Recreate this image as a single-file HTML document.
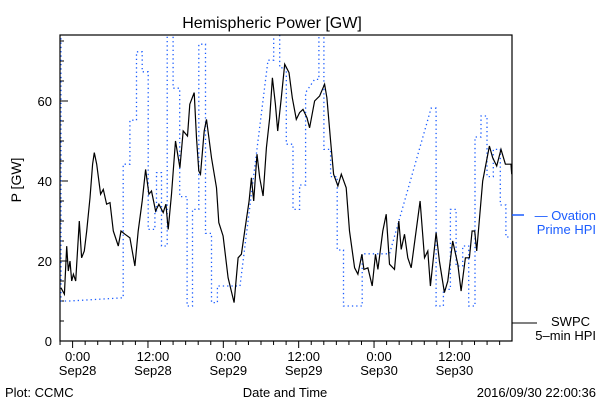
<!DOCTYPE html>
<html><head><meta charset="utf-8"><style>
body{margin:0;background:#fff}
svg text{font-family:"Liberation Sans",sans-serif;fill:#000}
</style></head><body>
<svg width="600" height="400" viewBox="0 0 600 400">
<rect width="600" height="400" fill="#fff"/>
<text x="272" y="28" font-size="16" text-anchor="middle">Hemispheric Power [GW]</text>
<text transform="translate(21,180) rotate(-90)" font-size="14" text-anchor="middle">P [GW]</text>
<text x="285" y="397" font-size="13" text-anchor="middle">Date and Time</text>
<text x="5" y="397" font-size="13">Plot: CCMC</text>
<text x="596" y="397" font-size="13" text-anchor="end">2016/09/30 22:00:36</text>
<defs><clipPath id="pc"><rect x="60" y="35" width="452" height="306"/></clipPath></defs>
<g id="axes"></g>
<g id="series" clip-path="url(#pc)"></g>
<rect x="60" y="35" width="452" height="306" fill="none" stroke="#000" stroke-width="1.2"/>
<g>
<line x1="512" y1="215" x2="524" y2="215" stroke="#1a5cff" stroke-width="1.5"/>
<text x="596" y="220" font-size="13" text-anchor="end" fill="#1a5cff" style="fill:#1a5cff">— Ovation</text>
<text x="596" y="234" font-size="13" text-anchor="end" style="fill:#1a5cff">Prime HPI</text>
</g>
<g>
<line x1="512" y1="323" x2="537" y2="323" stroke="#000" stroke-width="1"/>
<text x="590" y="326" font-size="13" text-anchor="end">SWPC</text>
<text x="596" y="340" font-size="13" text-anchor="end">5–min HPI</text>
</g>
</svg>
<script>
// time in hours (relative to data origin), values in GW
const swpcTime=[-2.70,-2.17,-1.80,-1.54,-1.27,-1.01,-0.74,-0.37,0.05,0.21,0.58,1.01,1.38,1.91,2.33,2.60,2.97,3.60,4.03,4.56,5.09,5.62,6.41,6.84,7.47,8.27,9.06,9.59,10.23,10.76,11.29,11.71,12.35,12.88,13.57,14.0,14.36,14.89,15.53,16.22,16.75,17.44,17.81,18.50,18.87,19.24,19.50,20.09,20.46,21.25,22.05,22.42,23.10,23.90,24.85,25.49,26.02,26.55,27.24,27.61,27.98,28.51,28.94,29.47,30.00,30.52,30.95,31.43,31.80,32.38,32.91,33.60,34.13,34.76,35.29,35.82,36.46,36.88,37.68,38.47,39.27,39.64,40.22,40.70,41.39,41.92,42.71,43.24,44.04,44.57,45.20,45.52,46.16,46.85,47.38,47.75,48.54,49.07,49.60,50.40,51.09,51.46,51.99,52.52,53.05,53.84,54.48,55.17,55.70,56.12,57.02,57.55,58.35,58.88,59.67,60.47,61.0,61.69,62.32,62.75,63.17,63.49,64.45,65.51,66.04,66.67,67.36,68.05,68.95,69.06];
const swpcPower=[13.3,11.7,23.7,17.5,20.0,15.0,16.7,15.0,25.8,30.0,20.8,22.5,27.5,35.8,44.2,47.1,44.2,36.7,37.9,34.2,34.6,27.5,23.75,27.5,26.7,25.8,18.75,27.5,35.0,42.9,36.7,37.5,32.5,34.2,32.1,34.2,27.9,36.7,50.0,43.3,52.5,51.25,59.2,62.1,50.8,42.5,41.7,52.5,55.4,45.8,38.3,29.6,26.25,15.8,9.6,20.8,21.7,27.5,35.0,40.8,35.0,46.7,40.8,36.25,48.3,55.8,65.8,59.2,52.5,60.8,69.2,67.1,60.8,55.4,57.1,57.9,55.8,53.3,60.0,61.25,64.2,60.8,50.0,41.7,38.75,41.7,38.3,27.5,18.3,16.7,21.7,17.9,18.3,13.75,21.7,17.9,27.5,31.7,19.2,17.9,30.0,22.9,26.7,20.8,18.3,27.5,35.0,20.8,22.5,13.75,27.1,20.0,12.1,15.0,25.0,19.2,12.5,20.8,20.8,27.5,27.5,22.5,40.0,48.75,45.8,43.75,47.9,44.2,44.2,41.7];
const ovTime=[-2.70,-2.70,-1.36,7.20,7.20,8.26,8.26,9.32,9.32,10.23,10.23,11.18,11.18,12.24,12.24,12.5,12.5,13.3,13.3,14.2,14.2,15.15,15.15,16.2,16.2,17.38,17.38,18.23,18.23,19.24,19.24,20.3,20.3,21.25,21.25,22.2,22.2,25.8,30.26,31.16,31.16,32.11,32.11,33.17,33.17,34.23,34.23,35.29,35.29,36.24,36.24,37.67,38.36,38.36,39.16,39.16,40.22,40.22,41.28,41.28,42.28,42.28,45.25,45.25,49.6,56.22,57.02,57.02,58.18,58.18,59.3,59.3,60.2,60.2,61.26,61.26,62.21,62.21,63.22,63.22,64.17,64.17,65.13,65.13,66.13,66.13,67.24,67.24,68.14,68.14,69.05];
const ovPower=[80,10,10,10.8,44.2,44.2,55.2,55.2,72.3,72.3,67.3,67.3,27.9,27.9,32.1,32.1,42.1,42.1,23.75,23.75,80,80,63.2,63.2,36.1,36.1,8.75,8.75,32.9,32.9,74.2,74.2,26.9,26.9,9.6,9.6,13.75,13.75,70.2,70.2,80,80,68.3,68.3,49.2,49.2,32.9,32.9,39,39,62.1,65.4,65.4,80,80,47.9,47.9,41.1,41.1,22.75,22.75,8.75,8.75,21.8,21.8,58.2,58.2,8.75,8.75,12.9,12.9,32.9,32.9,18.75,18.75,23.75,23.75,8.75,8.75,51,51,56.25,56.25,41.1,41.1,47.9,47.9,34,34,26,26];
const yTicks=[0,20,40,60];
const xTickHours=[0,12,24,36,48,60];
const xTickLabels=[["0:00","Sep28"],["12:00","Sep28"],["0:00","Sep29"],["12:00","Sep29"],["0:00","Sep30"],["12:00","Sep30"]];
const tOffset=0.86; // data time origin offset (hours)
const NS="http://www.w3.org/2000/svg";
function xs(h){return 72.6+h*6.28;}
function ys(v){return 341-v*4;}
function mk(tag,attrs,parent){const e=document.createElementNS(NS,tag);for(const k in attrs)e.setAttribute(k,attrs[k]);parent.appendChild(e);return e;}
const axes=document.getElementById('axes'),series=document.getElementById('series');
// y ticks
for(let v=0;v<=75;v+=5){const major=v%20===0;const t=mk('line',{x1:60,x2:60+(major?8:4),y1:ys(v),y2:ys(v),stroke:'#000'},axes);

}
yTicks.forEach(v=>{const t=mk('text',{x:52,y:ys(v)+5,'font-size':13,'text-anchor':'end'},axes);t.textContent=v;

});
// x ticks
for(let h=-2;h<=68;h+=2){const major=h%12===0;const t=mk('line',{x1:xs(h),x2:xs(h),y1:341,y2:341+(major?7:4),stroke:'#000'},axes);

}
xTickHours.forEach((h,i)=>{const t=mk('text',{x:xs(h)+5,y:361,'font-size':13,'text-anchor':'middle'},axes);t.textContent=xTickLabels[i][0];


const d=mk('text',{x:xs(h)+5,y:375,'font-size':13,'text-anchor':'middle'},axes);d.textContent=xTickLabels[i][1];

});
// series
const ovPts=ovTime.map((t,i)=>xs(t+tOffset).toFixed(1)+','+ys(ovPower[i]).toFixed(1)).join(' ');
const ov=mk('polyline',{points:ovPts,fill:'none',stroke:'#1a5cff','stroke-width':1.3,'stroke-dasharray':'1.3 3'},series);


const swPts=swpcTime.map((t,i)=>xs(t+tOffset).toFixed(1)+','+ys(swpcPower[i]).toFixed(1)).join(' ');
const sw=mk('polyline',{points:swPts,fill:'none',stroke:'#000','stroke-width':1.2},series);


</script>
</body></html>
